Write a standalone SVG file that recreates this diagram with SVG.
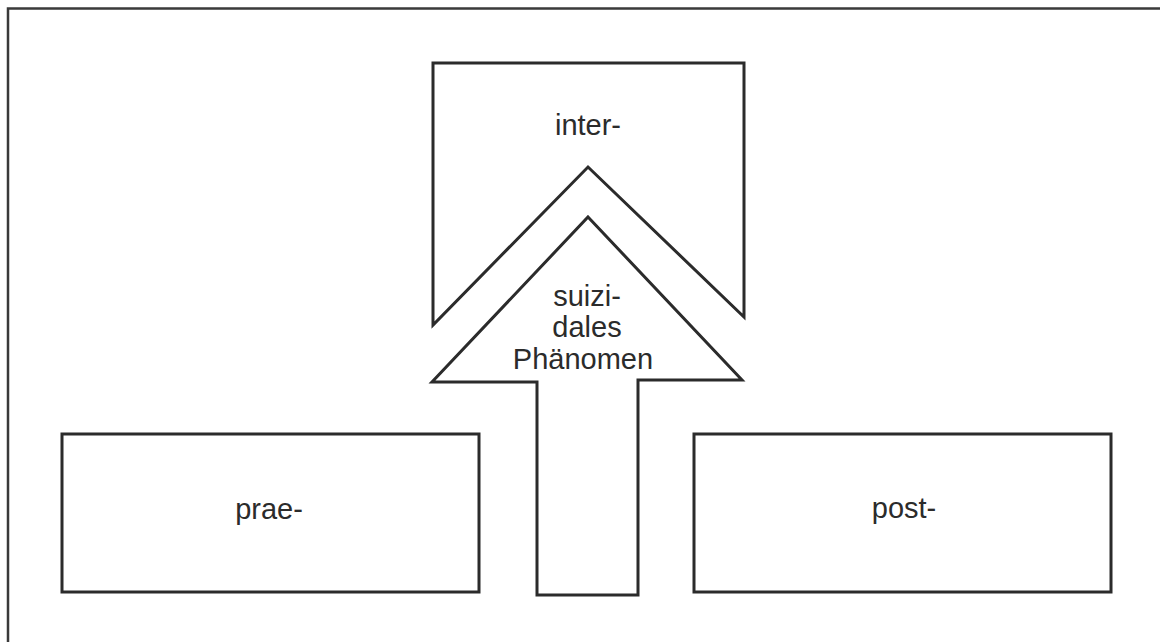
<svg xmlns="http://www.w3.org/2000/svg" width="1160" height="642" viewBox="0 0 1160 642">
<style>
.ln{fill:none;stroke:#2b2b2b;stroke-width:3;stroke-linejoin:miter}
.fr{fill:none;stroke:#3a3a3a;stroke-width:2.5}
.tx{font-family:"Liberation Sans",Arial,sans-serif;font-size:29px;fill:#2b2b2b;text-anchor:middle}
</style>
<rect width="1160" height="642" fill="#ffffff"/>
<g id="frame"><path class="fr" d="M8,642 V8.5 H1160"/></g>
<g id="inter">
<path class="ln" d="M433,325 V63 H744 V317 L588,167 Z"/>
<text class="tx" x="588" y="135">inter-</text>
</g>
<g id="prae">
<rect class="ln" x="62" y="434" width="417" height="158"/>
<text class="tx" x="269" y="519">prae-</text>
</g>
<g id="post">
<rect class="ln" x="694" y="434" width="417" height="158"/>
<text class="tx" x="904" y="518">post-</text>
</g>
<g id="connectors">
<g id="phaenomen">
<path class="ln" d="M588,217 L742,380 H638 V595 H537 V382 H432 Z"/>
<text class="tx" x="587" y="306">suizi-</text>
<text class="tx" x="587" y="337">dales</text>
<text class="tx" x="583" y="369">Phänomen</text>
</g>
</g>
</svg>
